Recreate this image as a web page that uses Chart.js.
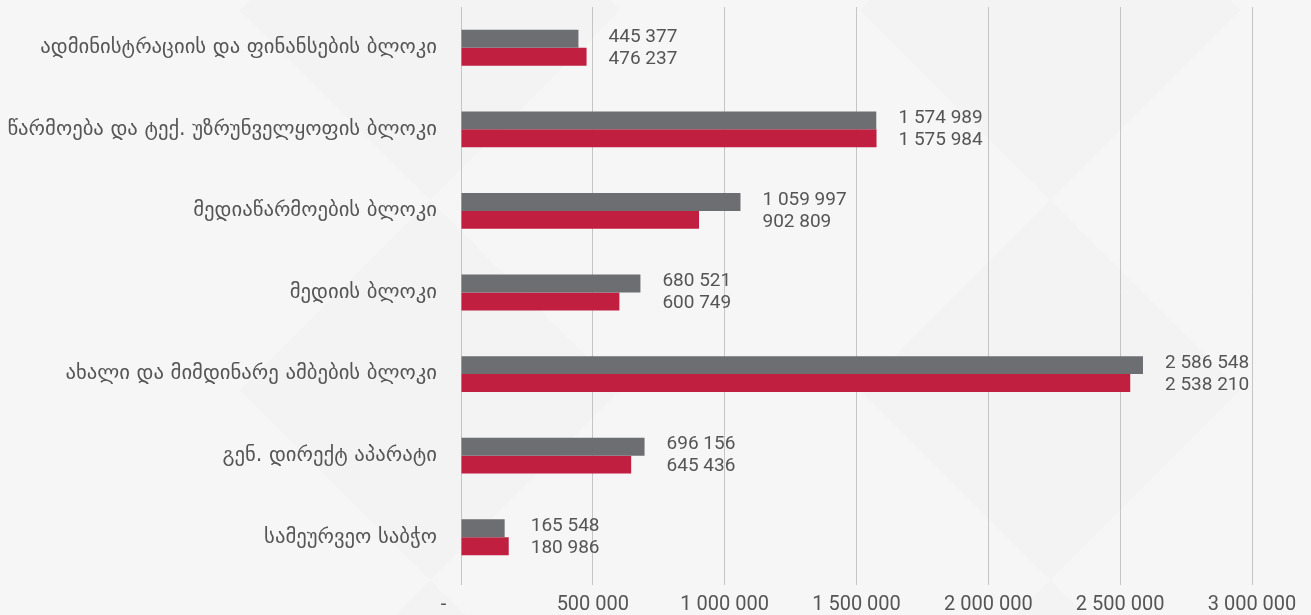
<!DOCTYPE html>
<html>
<head>
<meta charset="utf-8">
<script src="https://cdn.jsdelivr.net/npm/chart.js@4.4.1/dist/chart.umd.min.js"></script>
<style>
  html, body { margin: 0; padding: 0; background: #f5f5f5; }
  #wrap {
    width: 1311px; height: 615px; position: relative;
    background-color: #f5f5f5;
    background-image: conic-gradient(from 45deg, #f6f6f6 25%, #f3f3f3 0 50%, #f6f6f6 0 75%, #f3f3f3 0);
    background-size: 620px 380px;
    background-position: 120px 10px;
  }
  canvas { display: block; }
</style>
</head>
<body>
<div id="wrap"><canvas id="chart" width="1311" height="615"></canvas></div>
<script>
// Budget by block: two series (grey = first year, crimson = second year)
const categories = [
  'ადმინისტრაციის და ფინანსების ბლოკი',
  'წარმოება და ტექ. უზრუნველყოფის ბლოკი',
  'მედიაწარმოების ბლოკი',
  'მედიის ბლოკი',
  'ახალი და მიმდინარე ამბების ბლოკი',
  'გენ. დირექტ აპარატი',
  'სამეურვეო საბჭო',
];
const greyValues = [445377, 1574989, 1059997, 680521, 2586548, 696156, 165548];
const redValues  = [476237, 1575984, 902809, 600749, 2538210, 645436, 180986];
const xTicks = [0, 500000, 1000000, 1500000, 2000000, 2500000, 3000000];

const GREY = '#6d6e71';
const RED = '#c01f40';
const TEXT = '#555555';
const NUM_FONT = 'Roboto, "Noto Sans", sans-serif';

function fmt(v) {
  if (v === 0) return '-';
  return String(v).replace(/\B(?=(\d{3})+(?!\d))/g, ' ');
}

// Draw value labels to the right of each pair of bars, left aligned together
const pairLabels = {
  id: 'pairLabels',
  afterDatasetsDraw(chart) {
    const { ctx, scales: { x } } = chart;
    const m0 = chart.getDatasetMeta(0);
    const m1 = chart.getDatasetMeta(1);
    ctx.save();
    ctx.font = '19px ' + NUM_FONT;
    ctx.fillStyle = TEXT;
    ctx.textAlign = 'left';
    ctx.textBaseline = 'middle';
    categories.forEach((c, i) => {
      const lx = x.getPixelForValue(Math.max(greyValues[i], redValues[i])) + 22;
      ctx.fillText(fmt(greyValues[i]), lx, m0.data[i].y - 2);
      ctx.fillText(fmt(redValues[i]), lx, m1.data[i].y + 2);
    });
    ctx.restore();
  }
};

new Chart(document.getElementById('chart'), {
  type: 'bar',
  data: {
    labels: categories,
    datasets: [
      { data: greyValues, backgroundColor: GREY, barPercentage: 1, categoryPercentage: 0.44 },
      { data: redValues, backgroundColor: RED, barPercentage: 1, categoryPercentage: 0.44 },
    ],
  },
  options: {
    indexAxis: 'y',
    responsive: false,
    animation: false,
    layout: { padding: { top: 7, right: 59, bottom: 0, left: 0 } },
    scales: {
      x: {
        min: 0,
        max: 3000000,
        z: 1,
        afterBuildTicks: (s) => { s.ticks = xTicks.map(v => ({ value: v })); },
        afterFit: (s) => { s.height = 37; },
        grid: { color: 'rgba(165,165,165,0.6)', lineWidth: 1, tickLength: 7 },
        border: { display: false },
        ticks: {
          // the zero tick shows as a dash, sitting a little left of the axis
          callback: (v) => v === 0 ? '-       ' : fmt(v),
          color: TEXT,
          font: { family: NUM_FONT, size: 20 },
          maxRotation: 0,
          padding: 8,
        },
      },
      y: {
        afterFit: (s) => { s.width = 461; s.paddingTop = 0; s.paddingBottom = 0; },
        grid: { display: false },
        border: { display: false },
        ticks: {
          color: TEXT,
          font: { family: '"DejaVu Sans", sans-serif', size: 20.7 },
          padding: 16,
        },
      },
    },
    plugins: {
      legend: { display: false },
      tooltip: { enabled: false },
    },
  },
  plugins: [pairLabels],
});
</script>
</body>
</html>
